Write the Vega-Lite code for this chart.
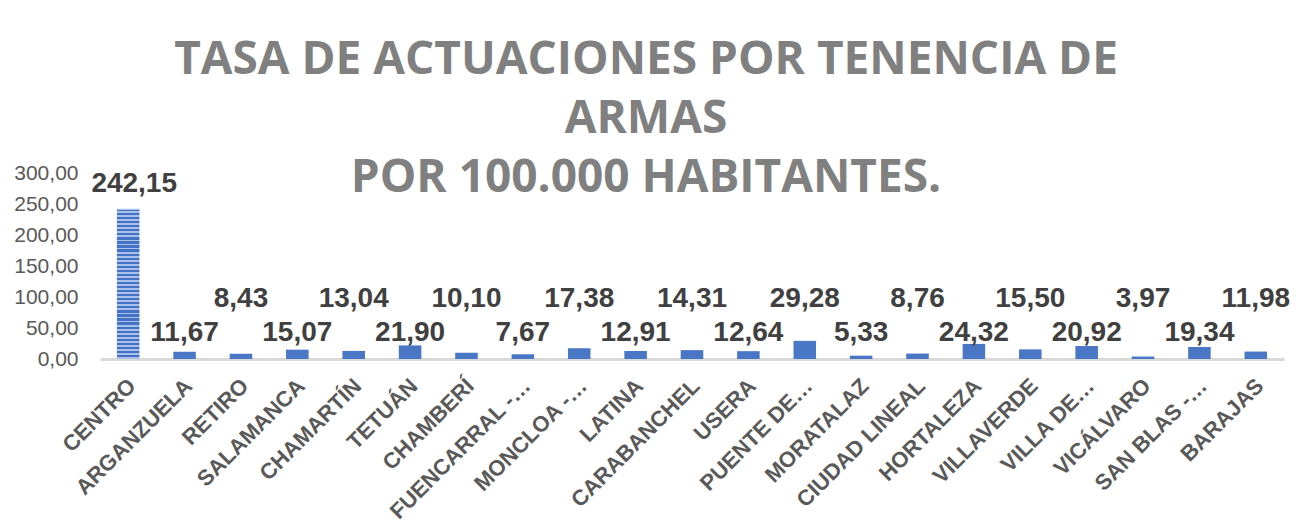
{
  "$schema": "https://vega.github.io/schema/vega-lite/v6.json",
  "autosize": {"type": "none"},
  "width": 1184,
  "height": 186,
  "padding": {"left": 100, "top": 173, "right": 12, "bottom": 165},
  "background": "white",
  "config": {
    "locale": {"number": {"decimal": ",", "thousands": ".", "grouping": [3], "currency": ["", " €"]}},
    "view": {"stroke": null},
    "font": "Liberation Sans"
  },
  "title": {
    "text": ["TASA DE ACTUACIONES POR TENENCIA DE", "ARMAS", "POR 100.000 HABITANTES."],
    "font": "Open Sans",
    "fontWeight": "bold",
    "fontSize": 46,
    "lineHeight": 59,
    "color": "#808080",
    "anchor": "middle",
    "frame": "group",
    "baseline": "alphabetic",
    "offset": 0,
    "dx": -46,
    "dy": 76
  },
  "data": {
    "values": [
      {"distrito": "CENTRO", "tasa": 242.15},
      {"distrito": "ARGANZUELA", "tasa": 11.67},
      {"distrito": "RETIRO", "tasa": 8.43},
      {"distrito": "SALAMANCA", "tasa": 15.07},
      {"distrito": "CHAMARTÍN", "tasa": 13.04},
      {"distrito": "TETUÁN", "tasa": 21.90},
      {"distrito": "CHAMBERÍ", "tasa": 10.10},
      {"distrito": "FUENCARRAL -…", "tasa": 7.67},
      {"distrito": "MONCLOA -…", "tasa": 17.38},
      {"distrito": "LATINA", "tasa": 12.91},
      {"distrito": "CARABANCHEL", "tasa": 14.31},
      {"distrito": "USERA", "tasa": 12.64},
      {"distrito": "PUENTE DE…", "tasa": 29.28},
      {"distrito": "MORATALAZ", "tasa": 5.33},
      {"distrito": "CIUDAD LINEAL", "tasa": 8.76},
      {"distrito": "HORTALEZA", "tasa": 24.32},
      {"distrito": "VILLAVERDE", "tasa": 15.50},
      {"distrito": "VILLA DE…", "tasa": 20.92},
      {"distrito": "VICÁLVARO", "tasa": 3.97},
      {"distrito": "SAN BLAS -…", "tasa": 19.34},
      {"distrito": "BARAJAS", "tasa": 11.98}
    ]
  },
  "transform": [{"window": [{"op": "row_number", "as": "idx"}]}],
  "encoding": {
    "x": {
      "field": "distrito",
      "type": "nominal",
      "sort": null,
      "scale": {
        "domain": ["CENTRO", "ARGANZUELA", "RETIRO", "SALAMANCA", "CHAMARTÍN", "TETUÁN", "CHAMBERÍ", "FUENCARRAL -…", "MONCLOA -…", "LATINA", "CARABANCHEL", "USERA", "PUENTE DE…", "MORATALAZ", "CIUDAD LINEAL", "HORTALEZA", "VILLAVERDE", "VILLA DE…", "VICÁLVARO", "SAN BLAS -…", "BARAJAS"],
        "paddingInner": 0.6,
        "paddingOuter": 0.3
      },
      "axis": {
        "title": null,
        "labelAngle": -45,
        "labelAlign": "right",
        "labelBaseline": "middle",
        "labelFont": "Liberation Sans",
        "labelFontWeight": "bold",
        "labelFontSize": 22,
        "labelColor": "#595959",
        "labelPadding": 23,
        "labelOffset": 4,
        "labelLimit": 300,
        "labelOverlap": false,
        "ticks": false,
        "domainColor": "#d9d9d9",
        "domainWidth": 3
      }
    }
  },
  "layer": [
    {
      "transform": [{"filter": "datum.idx > 1"}],
      "mark": {"type": "bar", "color": "#4a76c6"},
      "encoding": {
        "y": {
          "field": "tasa",
          "type": "quantitative",
          "scale": {"domain": [0, 300]},
          "axis": {"title": null, "values": [0, 50, 100, 150, 200, 250, 300], "format": ",.2f", "grid": false, "ticks": false, "domain": false, "labelOverlap": false, "labelFont": "Liberation Sans", "labelFontSize": 21, "labelColor": "#595959", "labelPadding": 22}
        }
      }
    },
    {
      "transform": [{"filter": "datum.idx == 1"}],
      "mark": {
        "type": "bar",
        "color": {
          "gradient": "linear",
          "x1": 0, "y1": 0, "x2": 0, "y2": 1,
          "stops": [
            {"offset": 0.0000, "color": "#a9c1ea"}, {"offset": 0.0050, "color": "#a9c1ea"}, {"offset": 0.0050, "color": "#4472c4"}, {"offset": 0.0149, "color": "#4472c4"}, {"offset": 0.0149, "color": "#a9c1ea"}, {"offset": 0.0270, "color": "#a9c1ea"},
            {"offset": 0.0270, "color": "#4472c4"}, {"offset": 0.0419, "color": "#4472c4"}, {"offset": 0.0419, "color": "#a9c1ea"}, {"offset": 0.0541, "color": "#a9c1ea"},
            {"offset": 0.0541, "color": "#4472c4"}, {"offset": 0.0689, "color": "#4472c4"}, {"offset": 0.0689, "color": "#a9c1ea"}, {"offset": 0.0811, "color": "#a9c1ea"},
            {"offset": 0.0811, "color": "#4472c4"}, {"offset": 0.0959, "color": "#4472c4"}, {"offset": 0.0959, "color": "#a9c1ea"}, {"offset": 0.1081, "color": "#a9c1ea"},
            {"offset": 0.1081, "color": "#4472c4"}, {"offset": 0.1230, "color": "#4472c4"}, {"offset": 0.1230, "color": "#a9c1ea"}, {"offset": 0.1351, "color": "#a9c1ea"},
            {"offset": 0.1351, "color": "#4472c4"}, {"offset": 0.1500, "color": "#4472c4"}, {"offset": 0.1500, "color": "#a9c1ea"}, {"offset": 0.1622, "color": "#a9c1ea"},
            {"offset": 0.1622, "color": "#4472c4"}, {"offset": 0.1770, "color": "#4472c4"}, {"offset": 0.1770, "color": "#a9c1ea"}, {"offset": 0.1892, "color": "#a9c1ea"},
            {"offset": 0.1892, "color": "#4472c4"}, {"offset": 0.2041, "color": "#4472c4"}, {"offset": 0.2041, "color": "#a9c1ea"}, {"offset": 0.2162, "color": "#a9c1ea"},
            {"offset": 0.2162, "color": "#4472c4"}, {"offset": 0.2311, "color": "#4472c4"}, {"offset": 0.2311, "color": "#a9c1ea"}, {"offset": 0.2432, "color": "#a9c1ea"},
            {"offset": 0.2432, "color": "#4472c4"}, {"offset": 0.2581, "color": "#4472c4"}, {"offset": 0.2581, "color": "#a9c1ea"}, {"offset": 0.2703, "color": "#a9c1ea"},
            {"offset": 0.2703, "color": "#4472c4"}, {"offset": 0.2851, "color": "#4472c4"}, {"offset": 0.2851, "color": "#a9c1ea"}, {"offset": 0.2973, "color": "#a9c1ea"},
            {"offset": 0.2973, "color": "#4472c4"}, {"offset": 0.3122, "color": "#4472c4"}, {"offset": 0.3122, "color": "#a9c1ea"}, {"offset": 0.3243, "color": "#a9c1ea"},
            {"offset": 0.3243, "color": "#4472c4"}, {"offset": 0.3392, "color": "#4472c4"}, {"offset": 0.3392, "color": "#a9c1ea"}, {"offset": 0.3514, "color": "#a9c1ea"},
            {"offset": 0.3514, "color": "#4472c4"}, {"offset": 0.3662, "color": "#4472c4"}, {"offset": 0.3662, "color": "#a9c1ea"}, {"offset": 0.3784, "color": "#a9c1ea"},
            {"offset": 0.3784, "color": "#4472c4"}, {"offset": 0.3932, "color": "#4472c4"}, {"offset": 0.3932, "color": "#a9c1ea"}, {"offset": 0.4054, "color": "#a9c1ea"},
            {"offset": 0.4054, "color": "#4472c4"}, {"offset": 0.4203, "color": "#4472c4"}, {"offset": 0.4203, "color": "#a9c1ea"}, {"offset": 0.4324, "color": "#a9c1ea"},
            {"offset": 0.4324, "color": "#4472c4"}, {"offset": 0.4473, "color": "#4472c4"}, {"offset": 0.4473, "color": "#a9c1ea"}, {"offset": 0.4595, "color": "#a9c1ea"},
            {"offset": 0.4595, "color": "#4472c4"}, {"offset": 0.4743, "color": "#4472c4"}, {"offset": 0.4743, "color": "#a9c1ea"}, {"offset": 0.4865, "color": "#a9c1ea"},
            {"offset": 0.4865, "color": "#4472c4"}, {"offset": 0.5014, "color": "#4472c4"}, {"offset": 0.5014, "color": "#a9c1ea"}, {"offset": 0.5135, "color": "#a9c1ea"},
            {"offset": 0.5135, "color": "#4472c4"}, {"offset": 0.5284, "color": "#4472c4"}, {"offset": 0.5284, "color": "#a9c1ea"}, {"offset": 0.5405, "color": "#a9c1ea"},
            {"offset": 0.5405, "color": "#4472c4"}, {"offset": 0.5554, "color": "#4472c4"}, {"offset": 0.5554, "color": "#a9c1ea"}, {"offset": 0.5676, "color": "#a9c1ea"},
            {"offset": 0.5676, "color": "#4472c4"}, {"offset": 0.5824, "color": "#4472c4"}, {"offset": 0.5824, "color": "#a9c1ea"}, {"offset": 0.5946, "color": "#a9c1ea"},
            {"offset": 0.5946, "color": "#4472c4"}, {"offset": 0.6095, "color": "#4472c4"}, {"offset": 0.6095, "color": "#a9c1ea"}, {"offset": 0.6216, "color": "#a9c1ea"},
            {"offset": 0.6216, "color": "#4472c4"}, {"offset": 0.6365, "color": "#4472c4"}, {"offset": 0.6365, "color": "#a9c1ea"}, {"offset": 0.6486, "color": "#a9c1ea"},
            {"offset": 0.6486, "color": "#4472c4"}, {"offset": 0.6635, "color": "#4472c4"}, {"offset": 0.6635, "color": "#a9c1ea"}, {"offset": 0.6757, "color": "#a9c1ea"},
            {"offset": 0.6757, "color": "#4472c4"}, {"offset": 0.6905, "color": "#4472c4"}, {"offset": 0.6905, "color": "#a9c1ea"}, {"offset": 0.7027, "color": "#a9c1ea"},
            {"offset": 0.7027, "color": "#4472c4"}, {"offset": 0.7176, "color": "#4472c4"}, {"offset": 0.7176, "color": "#a9c1ea"}, {"offset": 0.7297, "color": "#a9c1ea"},
            {"offset": 0.7297, "color": "#4472c4"}, {"offset": 0.7446, "color": "#4472c4"}, {"offset": 0.7446, "color": "#a9c1ea"}, {"offset": 0.7568, "color": "#a9c1ea"},
            {"offset": 0.7568, "color": "#4472c4"}, {"offset": 0.7716, "color": "#4472c4"}, {"offset": 0.7716, "color": "#a9c1ea"}, {"offset": 0.7838, "color": "#a9c1ea"},
            {"offset": 0.7838, "color": "#4472c4"}, {"offset": 0.7986, "color": "#4472c4"}, {"offset": 0.7986, "color": "#a9c1ea"}, {"offset": 0.8108, "color": "#a9c1ea"},
            {"offset": 0.8108, "color": "#4472c4"}, {"offset": 0.8257, "color": "#4472c4"}, {"offset": 0.8257, "color": "#a9c1ea"}, {"offset": 0.8378, "color": "#a9c1ea"},
            {"offset": 0.8378, "color": "#4472c4"}, {"offset": 0.8527, "color": "#4472c4"}, {"offset": 0.8527, "color": "#a9c1ea"}, {"offset": 0.8649, "color": "#a9c1ea"},
            {"offset": 0.8649, "color": "#4472c4"}, {"offset": 0.8797, "color": "#4472c4"}, {"offset": 0.8797, "color": "#a9c1ea"}, {"offset": 0.8919, "color": "#a9c1ea"},
            {"offset": 0.8919, "color": "#4472c4"}, {"offset": 0.9068, "color": "#4472c4"}, {"offset": 0.9068, "color": "#a9c1ea"}, {"offset": 0.9189, "color": "#a9c1ea"},
            {"offset": 0.9189, "color": "#4472c4"}, {"offset": 0.9338, "color": "#4472c4"}, {"offset": 0.9338, "color": "#a9c1ea"}, {"offset": 0.9459, "color": "#a9c1ea"},
            {"offset": 0.9459, "color": "#4472c4"}, {"offset": 0.9608, "color": "#4472c4"}, {"offset": 0.9608, "color": "#a9c1ea"}, {"offset": 0.9730, "color": "#a9c1ea"},
            {"offset": 0.9730, "color": "#4472c4"}, {"offset": 0.9878, "color": "#4472c4"}, {"offset": 0.9878, "color": "#a9c1ea"}, {"offset": 1.0000, "color": "#a9c1ea"}
          ]
        }
      },
      "encoding": {
        "y": {
          "field": "tasa",
          "type": "quantitative",
          "axis": {"title": null, "values": [0, 50, 100, 150, 200, 250, 300], "format": ",.2f", "grid": false, "ticks": false, "domain": false, "labelOverlap": false, "labelFont": "Liberation Sans", "labelFontSize": 21, "labelColor": "#595959", "labelPadding": 22}
        }
      }
    },
    {
      "transform": [{"filter": "datum.idx == 1"}],
      "mark": {"type": "text", "font": "Liberation Sans", "fontWeight": "bold", "fontSize": 28, "color": "#404040", "baseline": "alphabetic", "dy": -17, "dx": 6},
      "encoding": {
        "y": {
          "field": "tasa",
          "type": "quantitative",
          "axis": {"title": null, "values": [0, 50, 100, 150, 200, 250, 300], "format": ",.2f", "grid": false, "ticks": false, "domain": false, "labelOverlap": false, "labelFont": "Liberation Sans", "labelFontSize": 21, "labelColor": "#595959", "labelPadding": 22}
        },
        "text": {"field": "tasa", "type": "quantitative", "format": ",.2f"}
      }
    },
    {
      "transform": [{"filter": "datum.idx > 1 && datum.idx % 2 == 0"}],
      "mark": {"type": "text", "font": "Liberation Sans", "fontWeight": "bold", "fontSize": 28, "color": "#404040", "baseline": "alphabetic"},
      "encoding": {
        "y": {
          "datum": 29,
          "type": "quantitative",
          "axis": {"title": null, "values": [0, 50, 100, 150, 200, 250, 300], "format": ",.2f", "grid": false, "ticks": false, "domain": false, "labelOverlap": false, "labelFont": "Liberation Sans", "labelFontSize": 21, "labelColor": "#595959", "labelPadding": 22}
        },
        "text": {"field": "tasa", "type": "quantitative", "format": ",.2f"}
      }
    },
    {
      "transform": [{"filter": "datum.idx > 1 && datum.idx % 2 == 1"}],
      "mark": {"type": "text", "font": "Liberation Sans", "fontWeight": "bold", "fontSize": 28, "color": "#404040", "baseline": "alphabetic"},
      "encoding": {
        "y": {
          "datum": 84,
          "type": "quantitative",
          "axis": {"title": null, "values": [0, 50, 100, 150, 200, 250, 300], "format": ",.2f", "grid": false, "ticks": false, "domain": false, "labelOverlap": false, "labelFont": "Liberation Sans", "labelFontSize": 21, "labelColor": "#595959", "labelPadding": 22}
        },
        "text": {"field": "tasa", "type": "quantitative", "format": ",.2f"}
      }
    }
  ]
}
